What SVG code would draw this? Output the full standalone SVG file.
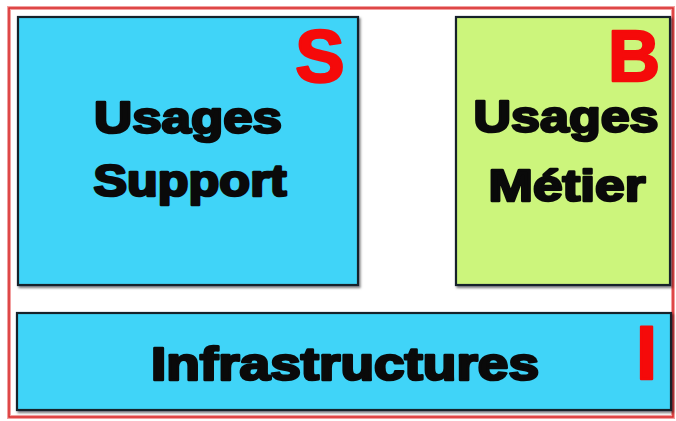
<svg xmlns="http://www.w3.org/2000/svg" width="676" height="421" viewBox="0 0 676 421">
<defs>
<filter id="sh" x="-5%" y="-5%" width="110%" height="115%">
<feDropShadow dx="1.5" dy="2" stdDeviation="1.2" flood-color="#000" flood-opacity="0.5"/>
</filter>
<style>
.box{stroke:#14232a;stroke-width:2.2;filter:url(#sh)}
.blue{fill:#3fd4f8}
.green{fill:#ccf57c}
.lbl{font-family:"Liberation Sans",Arial,sans-serif;font-weight:bold;fill:#0a0a0a;stroke:#0a0a0a;stroke-width:2.6;stroke-linejoin:round;text-anchor:middle}
.tag{font-family:"Liberation Sans",Arial,sans-serif;font-weight:bold;fill:#f50a0a;stroke:#f50a0a;stroke-width:2.4;stroke-linejoin:round}
</style>
</defs>
<rect id="frame" x="9" y="8" width="664" height="409" fill="#ffffff" stroke="#f2a0a0" stroke-width="4"/>
<rect x="9" y="8" width="664" height="409" fill="none" stroke="#d82a2a" stroke-width="1.5"/>
<g id="support">
<rect class="box blue" x="18" y="17" width="340" height="268"/>
<text class="lbl" x="188" y="133" font-size="45" textLength="188" lengthAdjust="spacingAndGlyphs">Usages</text>
<text class="lbl" x="190" y="196" font-size="45" textLength="193" lengthAdjust="spacingAndGlyphs">Support</text>
<text class="tag" x="320" y="82" font-size="74" text-anchor="middle">S</text>
</g>
<g id="metier">
<rect class="box green" x="456" y="17" width="214" height="268"/>
<text class="lbl" x="566" y="132" font-size="45" textLength="185" lengthAdjust="spacingAndGlyphs">Usages</text>
<text class="lbl" x="567" y="201" font-size="45" textLength="157" lengthAdjust="spacingAndGlyphs">Métier</text>
<text class="tag" x="660" y="81" font-size="72" text-anchor="end">B</text>
</g>
<g id="infra">
<rect class="box blue" x="17" y="313" width="654" height="97"/>
<text class="lbl" x="345" y="380" font-size="46" textLength="388" lengthAdjust="spacingAndGlyphs">Infrastructures</text>
<text class="tag" x="646.5" y="379" font-size="76" text-anchor="middle" stroke-width="5.5">I</text>
</g>
<g id="connectors"/>
</svg>
